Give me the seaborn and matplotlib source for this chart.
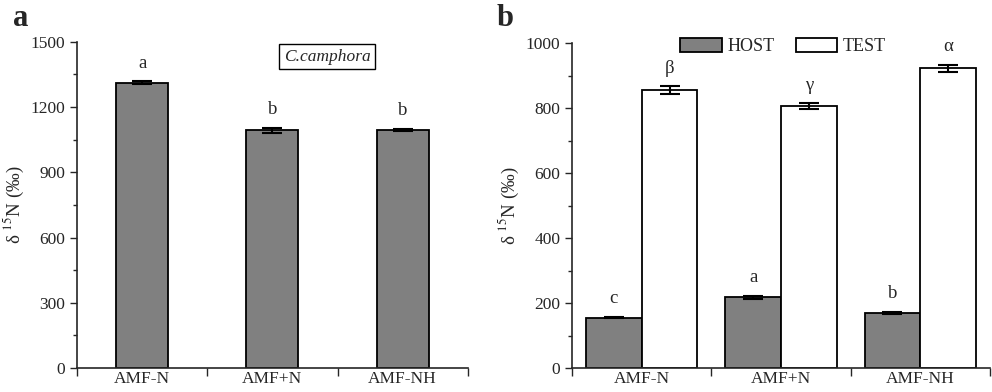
"""
delta 15N of host and test plants under three AMF / N treatments
Panel a: C. camphora alone, panel b: HOST vs TEST.
"""

import matplotlib
matplotlib.use('Agg')
import matplotlib.pyplot as plt
import seaborn as sns
import pandas as pd
from matplotlib.ticker import MultipleLocator, FixedLocator
from matplotlib.patches import Patch

sns.set_style('ticks')
plt.rcParams['font.family'] = ['Liberation Serif', 'DejaVu Serif']
plt.rcParams['mathtext.fontset'] = 'stix'
plt.rcParams['font.size'] = 12

# ---------------------------------------------------------------
# Data
# ---------------------------------------------------------------
treatments = ['AMF-N', 'AMF+N', 'AMF-NH']

camphora_mean = [1313, 1093, 1095]
camphora_err = [5, 10, 6]
camphora_letters = ['a', 'b', 'b']

groups = ['HOST', 'TEST']
host_mean = [155, 217, 170]
host_err = [2, 6, 3]
host_letters = ['c', 'a', 'b']
test_mean = [855, 805, 922]
test_err = [12, 9, 10]
test_letters = ['β', 'γ', 'α']

GREY = '#808080'

df_a = pd.DataFrame({'treatment': treatments, 'd15N': camphora_mean})
df_b = pd.DataFrame({
    'treatment': treatments * 2,
    'group': [groups[0]] * 3 + [groups[1]] * 3,
    'd15N': host_mean + test_mean,
})

fig = plt.figure(figsize=(9.92, 3.92), dpi=100)
ax_a = fig.add_axes([0.0776, 0.0612, 0.394, 0.832])
ax_b = fig.add_axes([0.5766, 0.0612, 0.4214, 0.829])


def style_axis(ax, ymax, major, minor):
    ax.set_ylim(0, ymax)
    ax.set_xlim(-0.5, 2.5)
    ax.yaxis.set_major_locator(MultipleLocator(major))
    ax.yaxis.set_minor_locator(MultipleLocator(minor))
    ax.xaxis.set_minor_locator(FixedLocator([-0.5, 0.5, 1.5, 2.5]))
    ax.tick_params(axis='y', which='major', direction='out', length=5, width=1, labelsize=12.5)
    ax.tick_params(axis='y', which='minor', direction='out', length=3, width=1)
    ax.tick_params(axis='x', which='major', length=0, labelsize=12.5, pad=2)
    ax.tick_params(axis='x', which='minor', direction='out', length=6, width=1)
    for side in ['top', 'right']:
        ax.spines[side].set_visible(False)
    for side in ['left', 'bottom']:
        ax.spines[side].set_linewidth(1.2)
    ax.set_xlabel('')
    ax.set_ylabel(r'δ $^{15}$N (‰)', fontsize=13.5, labelpad=3)


def add_errors(ax, container, errs, letters):
    for patch, err, letter in zip(container.patches, errs, letters):
        x = patch.get_x() + patch.get_width() / 2
        y = patch.get_height()
        ax.errorbar(x, y, yerr=err, fmt='none', ecolor='black',
                    elinewidth=1.5, capsize=7, capthick=1.5)
        ax.annotate(letter, (x, y + err), xytext=(0, 7),
                    textcoords='offset points', ha='center', va='bottom', fontsize=13.5)


# ---------------------------------------------------------------
# Panel a
# ---------------------------------------------------------------
sns.barplot(data=df_a, x='treatment', y='d15N', color=GREY, width=0.4,
            edgecolor='black', linewidth=1.3, saturation=1, errorbar=None, ax=ax_a)
style_axis(ax_a, 1500, 300, 150)
add_errors(ax_a, ax_a.containers[0], camphora_err, camphora_letters)
ax_a.text(0.64, 0.955, 'C.camphora', transform=ax_a.transAxes, style='italic',
          ha='center', va='center', fontsize=12.5,
          bbox=dict(facecolor='white', edgecolor='black', boxstyle='square,pad=0.25', linewidth=1))

# ---------------------------------------------------------------
# Panel b
# ---------------------------------------------------------------
sns.barplot(data=df_b, x='treatment', y='d15N', hue='group',
            palette={'HOST': GREY, 'TEST': 'white'}, width=0.8,
            edgecolor='black', linewidth=1.3, saturation=1, errorbar=None,
            legend=False, ax=ax_b)
style_axis(ax_b, 1000, 200, 100)
add_errors(ax_b, ax_b.containers[0], host_err, host_letters)
add_errors(ax_b, ax_b.containers[1], test_err, test_letters)

handles = [Patch(facecolor=GREY, edgecolor='black', linewidth=1.3),
           Patch(facecolor='white', edgecolor='black', linewidth=1.3)]
ax_b.legend(handles, groups, loc='upper center', bbox_to_anchor=(0.505, 1.065),
            ncol=2, frameon=False, fontsize=13, handlelength=2.3, handleheight=0.8,
            handletextpad=0.3, columnspacing=1.2)

fig.text(0.013, 0.99, 'a', fontsize=22, fontweight='bold', va='top')
fig.text(0.501, 0.99, 'b', fontsize=22, fontweight='bold', va='top')

plt.savefig('out.png', dpi=100)
plt.close()
